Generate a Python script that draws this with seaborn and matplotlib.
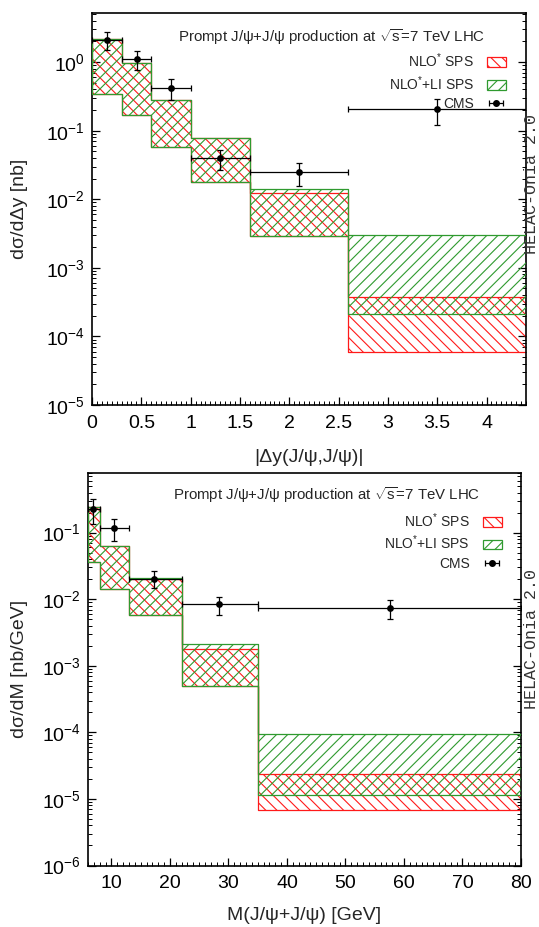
import numpy as np
import matplotlib
matplotlib.use("Agg")
import matplotlib.pyplot as plt
import seaborn as sns
from matplotlib.ticker import LogLocator, MultipleLocator, NullFormatter, FuncFormatter
from matplotlib.patches import Patch

# ---------------- data: rapidity difference ----------------
dy_edges = [0.0, 0.3, 0.6, 1.0, 1.6, 2.6, 4.5]
nlo_dy_lo = [0.343, 0.17, 0.057, 0.018, 0.0029, 5.9e-5]
nlo_dy_hi = [2.18, 0.96, 0.28, 0.078, 0.0122, 3.7e-4]
li_dy_lo = [0.343, 0.17, 0.057, 0.018, 0.0029, 2.1e-4]
li_dy_hi = [2.18, 0.96, 0.28, 0.078, 0.0141, 3.0e-3]

cms_dy_x = [0.15, 0.46, 0.80, 1.30, 2.10, 3.50]
cms_dy_y = [2.13, 1.11, 0.42, 0.040, 0.0246, 0.207]
cms_dy_up = [2.72, 1.47, 0.57, 0.052, 0.0337, 0.29]
cms_dy_dn = [1.52, 0.77, 0.28, 0.0267, 0.0154, 0.122]
cms_dy_xlo = [0.0, 0.3, 0.6, 1.0, 1.6, 2.6]
cms_dy_xhi = [0.3, 0.6, 1.0, 1.6, 2.6, 4.5]

# ---------------- data: invariant mass ----------------
m_edges = [6.0, 8.0, 13.0, 22.0, 35.0, 80.0]
nlo_m_lo = [0.0366, 0.0144, 0.00575, 4.9e-4, 6.9e-6]
nlo_m_hi = [0.24, 0.0634, 0.020, 0.00178, 2.4e-5]
li_m_lo = [0.0366, 0.0144, 0.00575, 5.0e-4, 1.13e-5]
li_m_hi = [0.24, 0.0634, 0.021, 0.00212, 9.5e-5]

cms_m_x = [6.9, 10.5, 17.3, 28.4, 57.6]
cms_m_y = [0.23, 0.118, 0.0204, 0.0084, 0.0075]
cms_m_up = [0.325, 0.158, 0.0265, 0.0109, 0.0098]
cms_m_dn = [0.133, 0.0746, 0.0146, 0.0058, 0.0051]
cms_m_xlo = [6.0, 8.0, 13.0, 22.0, 35.0]
cms_m_xhi = [8.0, 13.0, 22.0, 35.0, 80.0]

title_text = r"Prompt J/ψ+J/ψ production at $\sqrt{\mathrm{s}}$=7 TeV LHC"
legend_labels = [r"NLO$^{*}$ SPS", r"NLO$^{*}$+LI SPS", "CMS"]

# ---------------- style ----------------
sns.set_style("ticks")
plt.rcParams["font.family"] = ["Liberation Sans", "DejaVu Sans"]
plt.rcParams["mathtext.fontset"] = "custom"
plt.rcParams["mathtext.rm"] = "Liberation Sans"
plt.rcParams["mathtext.it"] = "Liberation Sans:italic"
plt.rcParams["mathtext.bf"] = "Liberation Sans:bold"
plt.rcParams["mathtext.sf"] = "Liberation Sans"
plt.rcParams["hatch.linewidth"] = 0.8

RED = "#ff1a1a"
GREEN = "#2f9a2f"

fig = plt.figure(figsize=(5.39, 9.27), dpi=100)
ax1 = fig.add_axes([92 / 539, 1 - 405 / 927, 434 / 539, 392 / 927])
ax2 = fig.add_axes([88 / 539, 1 - 865.5 / 927, 433 / 539, 393 / 927])


def step_band(ax, edges, lo, hi, color, hatch, z):
    edges = np.asarray(edges, dtype=float)
    lo = np.append(lo, lo[-1])
    hi = np.append(hi, hi[-1])
    ax.fill_between(edges, lo, hi, step="post", facecolor="none",
                    edgecolor=color, hatch=hatch, linewidth=0.9, zorder=z)


def draw_panel(ax, edges, nlo_lo, nlo_hi, li_lo, li_hi, cx, cy, cup, cdn, cxlo, cxhi):
    ax.set_yscale("log")
    step_band(ax, edges, nlo_lo, nlo_hi, RED, "\\\\\\", 2)
    step_band(ax, edges, li_lo, li_hi, GREEN, "///", 3)
    cx = np.asarray(cx); cy = np.asarray(cy)
    yerr = [cy - np.asarray(cdn), np.asarray(cup) - cy]
    xerr = [cx - np.asarray(cxlo), np.asarray(cxhi) - cx]
    ax.errorbar(cx, cy, xerr=xerr, yerr=yerr, fmt="none", ecolor="black",
                elinewidth=0.9, capsize=2.5, capthick=0.9, zorder=4)
    sns.scatterplot(x=cx, y=cy, ax=ax, color="black", s=24, linewidth=0,
                    zorder=5, legend=False)
    proxy = ax.errorbar([cx[0]], [1e-14], xerr=[0.1], fmt="o", color="black",
                        ms=4, elinewidth=0.9, capsize=2.5, capthick=0.9)
    return proxy


p1 = draw_panel(ax1, dy_edges, nlo_dy_lo, nlo_dy_hi, li_dy_lo, li_dy_hi,
                cms_dy_x, cms_dy_y, cms_dy_up, cms_dy_dn, cms_dy_xlo, cms_dy_xhi)
p2 = draw_panel(ax2, m_edges, nlo_m_lo, nlo_m_hi, li_m_lo, li_m_hi,
                cms_m_x, cms_m_y, cms_m_up, cms_m_dn, cms_m_xlo, cms_m_xhi)

ax1.set_xlim(0, 4.4)
ax1.set_ylim(1e-5, 5.2)
ax2.set_xlim(6, 80)
ax2.set_ylim(1e-6, 0.8)

ax1.xaxis.set_major_locator(MultipleLocator(0.5))
ax1.xaxis.set_minor_locator(MultipleLocator(0.05))
ax2.xaxis.set_major_locator(MultipleLocator(10))
ax2.xaxis.set_minor_locator(MultipleLocator(1))

fmt_g = FuncFormatter(lambda v, p: "%g" % v)
for ax in (ax1, ax2):
    ax.xaxis.set_major_formatter(fmt_g)
    ax.yaxis.set_major_locator(LogLocator(base=10, numticks=20))
    ax.yaxis.set_minor_locator(LogLocator(base=10, subs=np.arange(2, 10), numticks=20))
    ax.yaxis.set_minor_formatter(NullFormatter())
    ax.tick_params(which="both", direction="in", left=True, right=True,
                   top=False, bottom=True, colors="black")
    ax.tick_params(which="major", length=6, width=0.9, labelsize=14)
    ax.tick_params(axis="x", which="major", pad=7)
    ax.tick_params(axis="y", which="major", pad=5)
    ax.tick_params(which="minor", length=3, width=0.7)
    for s in ax.spines.values():
        s.set_linewidth(1.2)
        s.set_color("black")
        s.set_visible(True)
    ax.grid(False)

ax1.set_xlabel("|Δy(J/ψ,J/ψ)|", fontsize=14)
ax1.set_ylabel("dσ/dΔy [nb]", fontsize=14)
ax2.set_xlabel("M(J/ψ+J/ψ) [GeV]", fontsize=14)
ax2.set_ylabel("dσ/dM [nb/GeV]", fontsize=14)
ax1.xaxis.set_label_coords(0.5, -0.112)
ax1.yaxis.set_label_coords(-0.148, 0.5)
ax2.xaxis.set_label_coords(0.5, -0.105)
ax2.yaxis.set_label_coords(-0.139, 0.5)

ax1.text(0.551, 0.939, title_text, transform=ax1.transAxes, ha="center",
         va="center", fontsize=10.8)
ax2.text(0.552, 0.943, title_text, transform=ax2.transAxes, ha="center",
         va="center", fontsize=10.8)


def make_legend(ax, proxy, anchor):
    handles = [Patch(facecolor="none", edgecolor=RED, hatch="\\\\\\", linewidth=0.9),
               Patch(facecolor="none", edgecolor=GREEN, hatch="///", linewidth=0.9),
               proxy]
    ax.legend(handles, legend_labels, loc="upper right", bbox_to_anchor=anchor,
              frameon=False, markerfirst=False, fontsize=10, handlelength=1.4,
              handleheight=0.7, handletextpad=0.9, labelspacing=0.3,
              borderpad=0, borderaxespad=0)


make_legend(ax1, p1, (0.954, 0.902))
make_legend(ax2, p2, (0.956, 0.902))

fig.text(538.5 / 539, 1 - 184 / 927, "HELAC-Onia 2.0", rotation=90,
         family="Liberation Mono", fontsize=12, ha="right", va="center",
         color="#333333")
fig.text(538.5 / 539, 1 - 639 / 927, "HELAC-Onia 2.0", rotation=90,
         family="Liberation Mono", fontsize=12, ha="right", va="center",
         color="#333333")

fig.savefig("out.png", dpi=100)
